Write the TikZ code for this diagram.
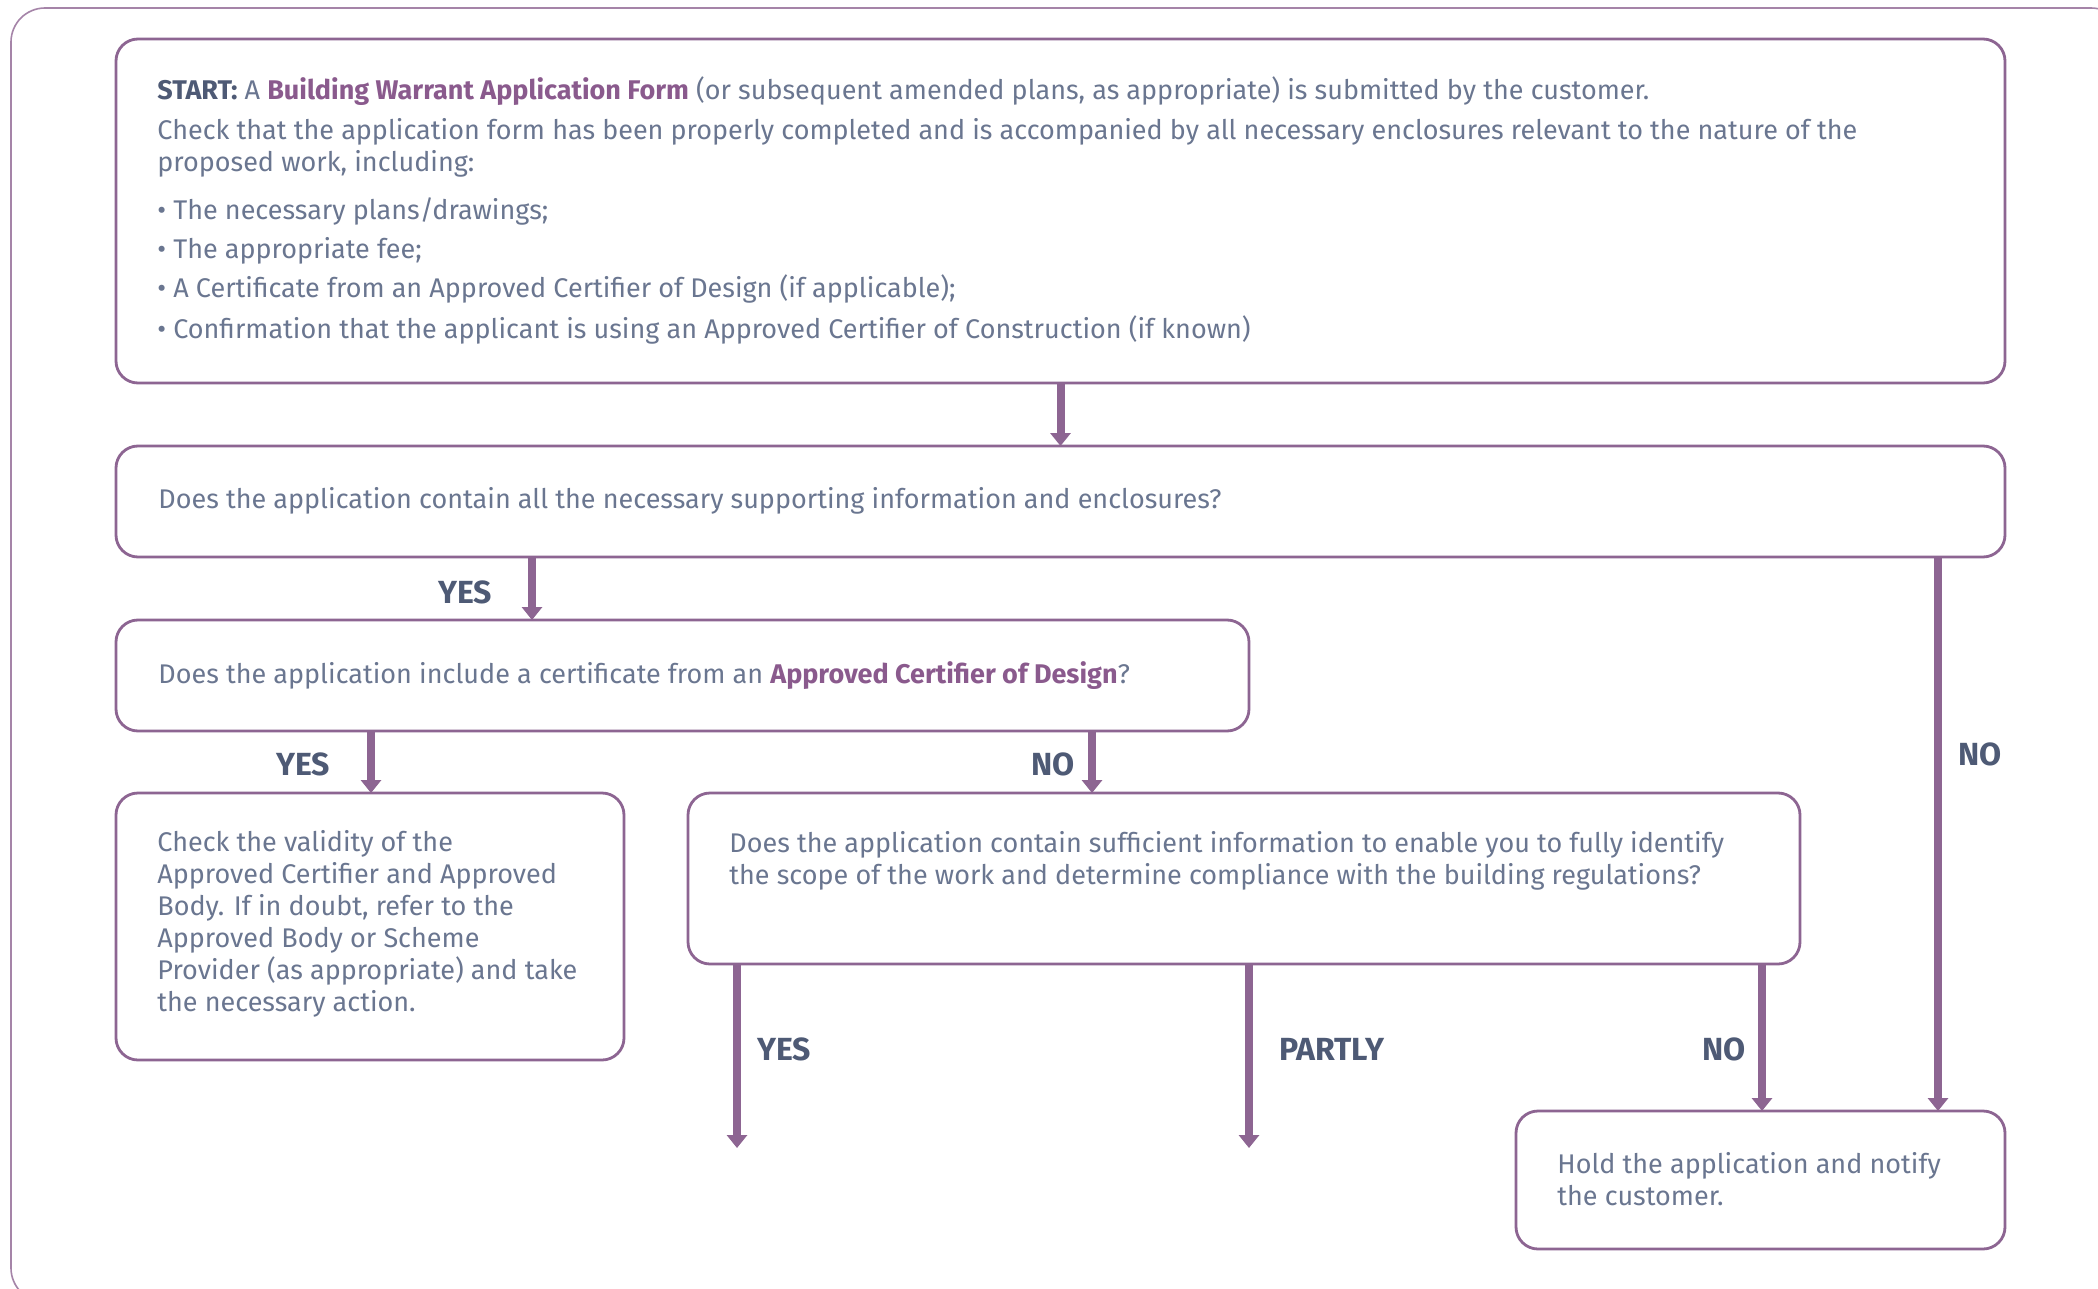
\documentclass[tikz,border=0pt]{standalone}
\usepackage{fontspec}
\setmainfont{Fira Sans}
\usetikzlibrary{arrows.meta}
\definecolor{boxpurple}{HTML}{8D6592}
\definecolor{framepurple}{HTML}{A584A8}
\definecolor{slate}{HTML}{6A7690}
\definecolor{slatedark}{HTML}{4E5A75}
\definecolor{hilite}{HTML}{8A5A8D}
\newcommand{\hl}[1]{\textbf{\color{hilite}#1}}
\newcommand{\st}[1]{\textbf{\color{slatedark}#1}}
\tikzset{
  box/.style={draw=boxpurple, line width=1.4pt, rounded corners=11pt, inner sep=0pt, outer sep=0pt, anchor=north west, fill=white},
  txt/.style={anchor=base west, inner sep=0pt, text=slate, font=\fontsize{13.5pt}{16pt}\selectfont},
  lbl/.style={anchor=base west, inner sep=0pt, text=slatedark, font=\fontsize{16pt}{18pt}\selectfont\bfseries},
  arr/.style={draw=boxpurple, line width=4pt, -{Triangle[width=10pt,length=6.5pt]}},
  frame/.style={draw=framepurple, line width=0.8pt, rounded corners=17pt}
}
\begin{document}
\begin{tikzpicture}[x=0.5pt,y=-0.5pt]
\useasboundingbox (0,0) rectangle (2098,1289);
\fill[white] (0,0) rectangle (2098,1289);
\begin{scope}
\clip (0,0) rectangle (2098,1289);
\draw[frame] (11,8) rectangle (2125,1302);
\end{scope}

% boxes
\node[box, minimum width=944.5pt, minimum height=172pt] (b1) at (116,39) {};
\node[box, minimum width=944.5pt, minimum height=55.5pt] (b2) at (116,446) {};
\node[box, minimum width=566.5pt, minimum height=55.5pt] (b3) at (116,620) {};
\node[box, minimum width=254pt, minimum height=133.5pt] (b4) at (116,793) {};
\node[box, minimum width=556pt, minimum height=85.5pt] (b5) at (688,793) {};
\node[box, minimum width=244.5pt, minimum height=69pt] (b6) at (1516,1111) {};

% box 1 text
\node[txt] (t1a) at (157,100) {\st{START:} A \hl{Building Warrant Application Form} (or subsequent amended plans, as appropriate) is submitted by the customer.};
\node[txt] (t1b) at (157,140) {Check that the application form has been properly completed and is accompanied by all necessary enclosures relevant to the nature of the};
\node[txt] (t1c) at (157,172) {proposed work, including:};
\node[txt] (t1d) at (157,220) {• The necessary plans/drawings;};
\node[txt] (t1e) at (157,259) {• The appropriate fee;};
\node[txt] (t1f) at (157,298) {• A Certificate from an Approved Certifier of Design (if applicable);};
\node[txt] (t1g) at (157,338) {• Confirmation that the applicant is using an Approved Certifier of Construction (if known)};

% box 2 text
\node[txt] (t2) at (158,508) {Does the application contain all the necessary supporting information and enclosures?};
% box 3 text
\node[txt] (t3) at (158,683) {Does the application include a certificate from an \hl{Approved Certifier of Design}?};
% box 4 text
\node[txt] (t4a) at (157,851) {Check the validity of the};
\node[txt] (t4b) at (157,883) {Approved Certifier and Approved};
\node[txt] (t4c) at (157,915) {Body. If in doubt, refer to the};
\node[txt] (t4d) at (157,947) {Approved Body or Scheme};
\node[txt] (t4e) at (157,979) {Provider (as appropriate) and take};
\node[txt] (t4f) at (157,1011) {the necessary action.};
% box 5 text
\node[txt] (t5a) at (729,852) {Does the application contain sufficient information to enable you to fully identify};
\node[txt] (t5b) at (729,884) {the scope of the work and determine compliance with the building regulations?};
% box 6 text
\node[txt] (t6a) at (1557,1173) {Hold the application and notify};
\node[txt] (t6b) at (1557,1205) {the customer.};

% connector x positions and free ends
\coordinate (xA) at (532,0);
\coordinate (xB) at (371,0);
\coordinate (xC) at (1092,0);
\coordinate (xD) at (1762,0);
\coordinate (xE) at (1938,0);
\coordinate (e1) at (737,1148);
\coordinate (e2) at (1249,1148);

% connectors
\draw[arr] (b1.south) -- (b2.north);
\draw[arr] (b2.south -| xA) -- (b3.north -| xA);
\draw[arr] (b3.south -| xB) -- (b4.north -| xB);
\draw[arr] (b3.south -| xC) -- (b5.north -| xC);
\draw[arr] (b5.south -| e1) -- (e1);
\draw[arr] (b5.south -| e2) -- (e2);
\draw[arr] (b5.south -| xD) -- (b6.north -| xD);
\draw[arr] (b2.south -| xE) -- (b6.north -| xE);

% labels
\node[lbl] (l1) at (438,603) {YES};
\node[lbl] (l2) at (276,775) {YES};
\node[lbl] (l3) at (1031,775) {NO};
\node[lbl] (l4) at (1958,765) {NO};
\node[lbl] (l5) at (757,1060) {YES};
\node[lbl] (l6) at (1279,1060) {PARTLY};
\node[lbl] (l7) at (1702,1060) {NO};
\end{tikzpicture}
\end{document}
